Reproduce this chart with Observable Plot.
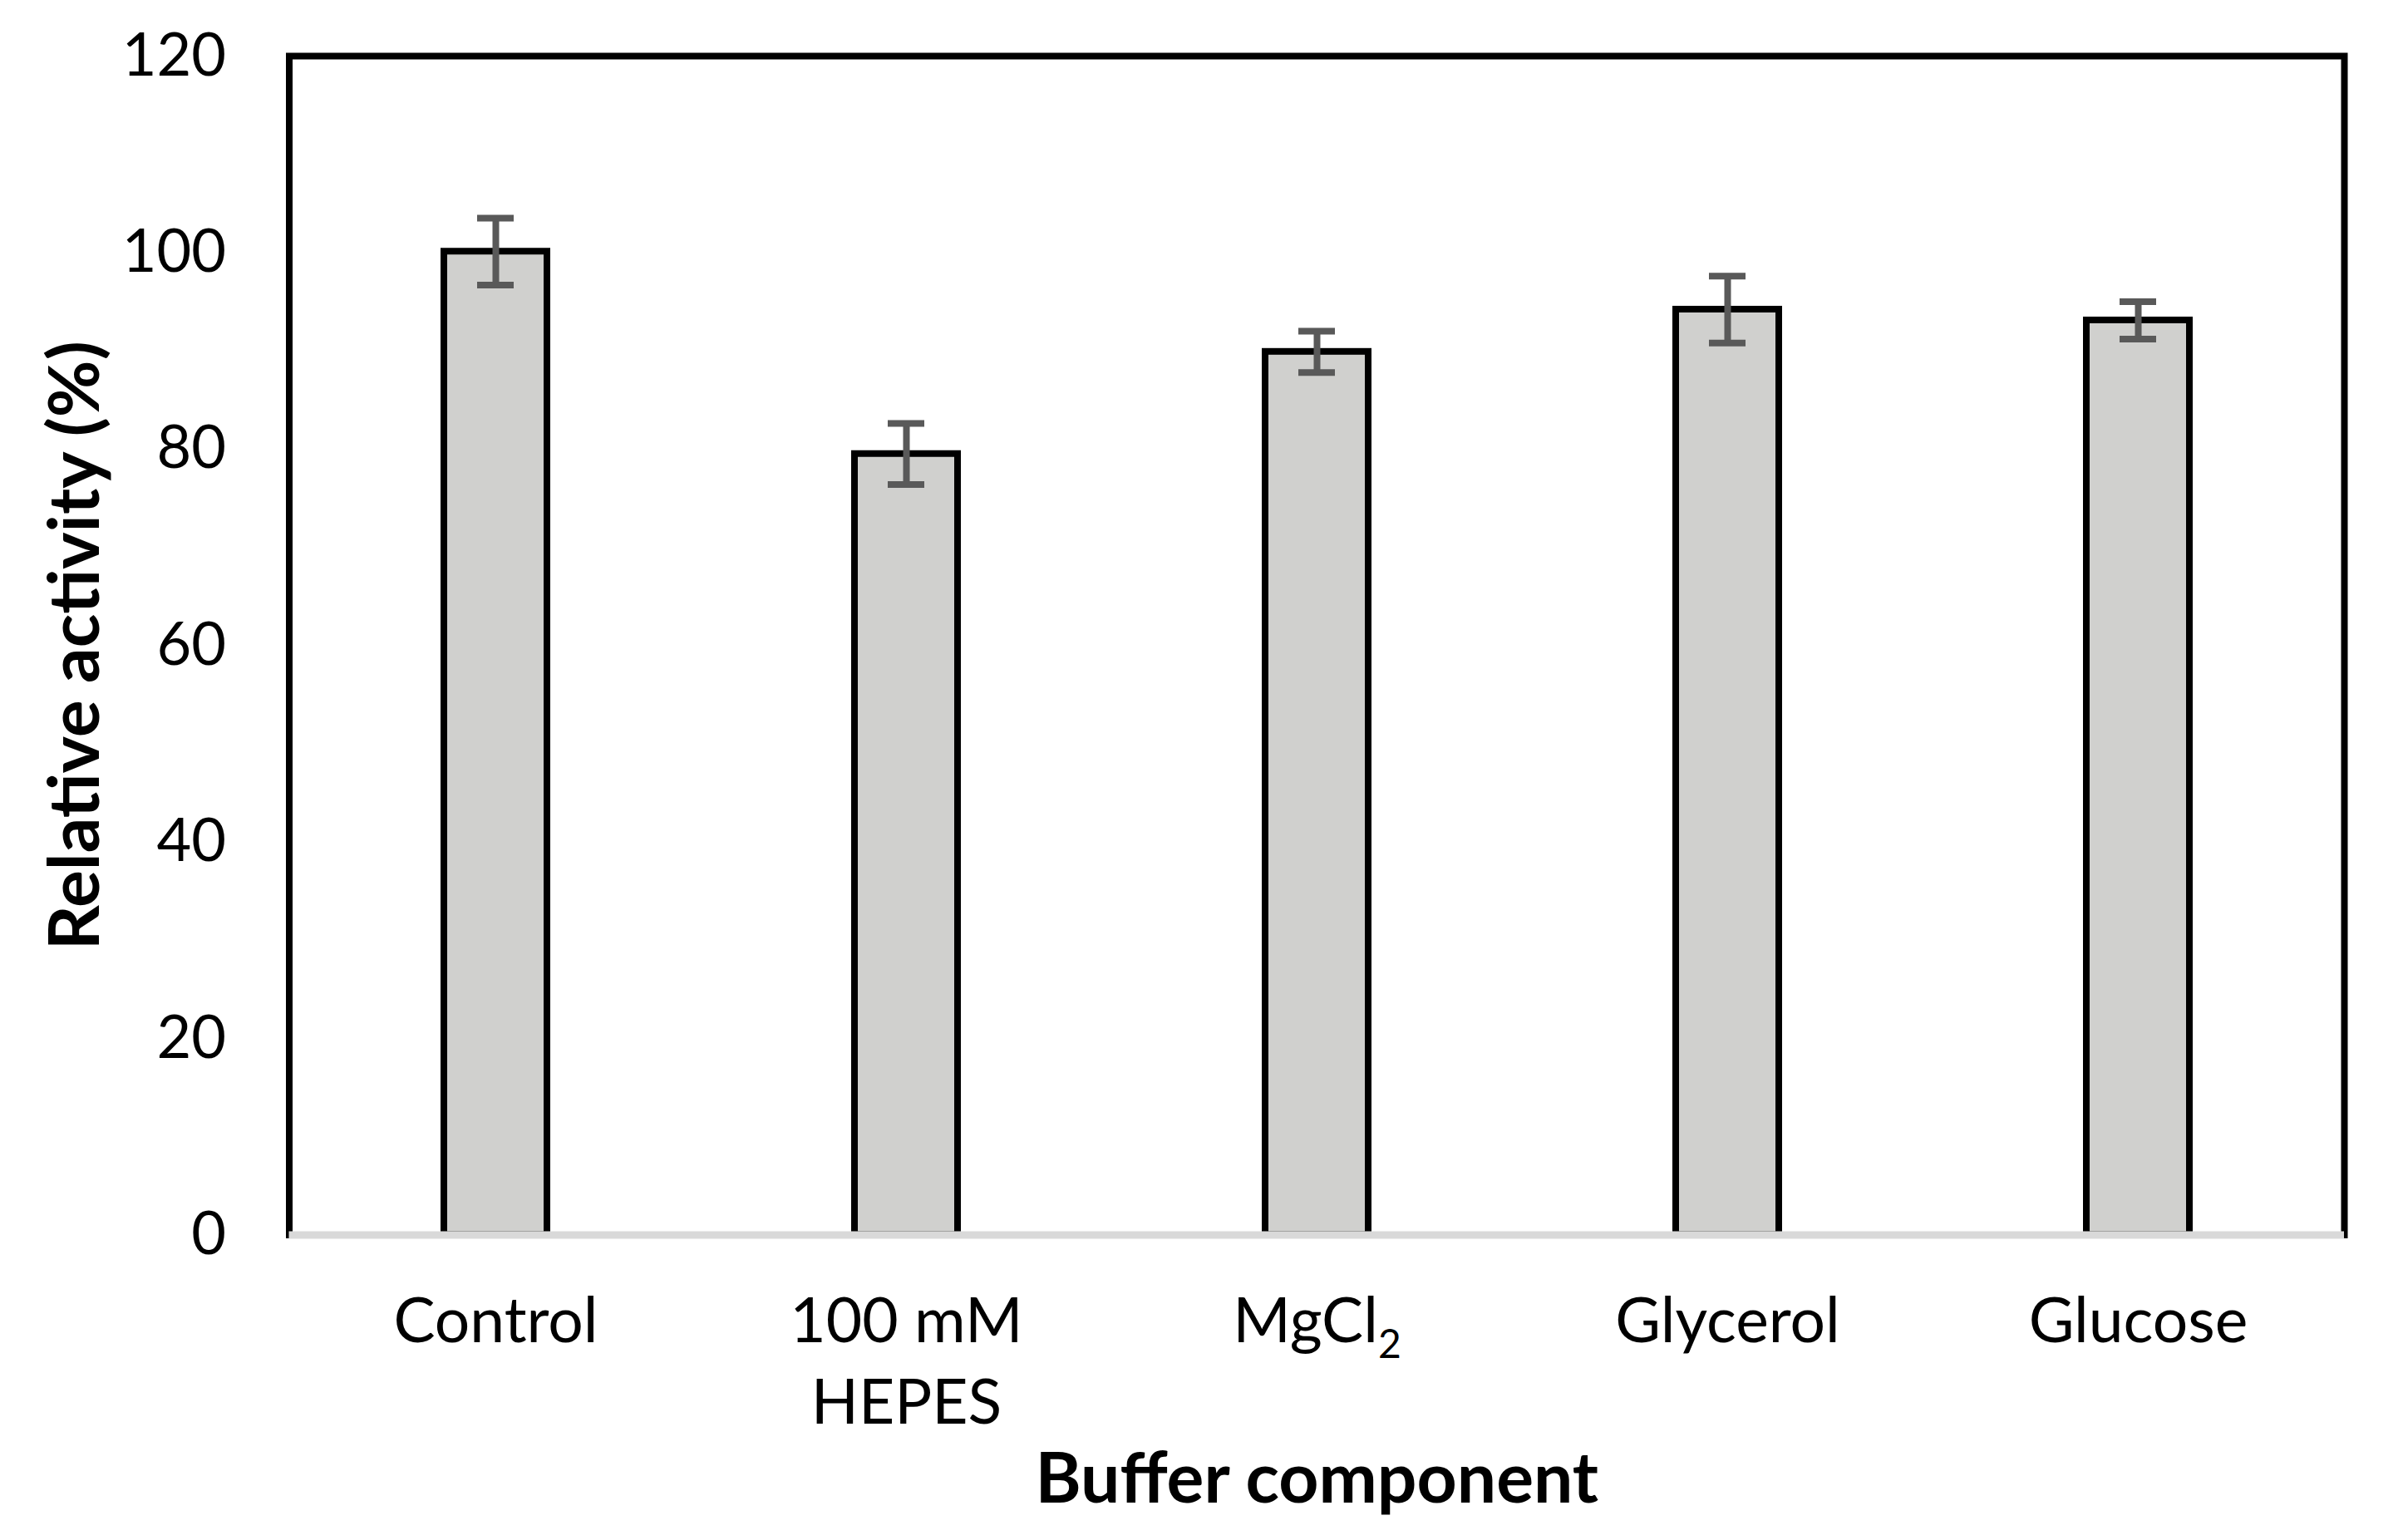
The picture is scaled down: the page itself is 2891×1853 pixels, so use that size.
<!DOCTYPE html>
<html><head><meta charset="utf-8">
<script src="https://cdn.jsdelivr.net/npm/d3@7"></script>
<script src="https://cdn.jsdelivr.net/npm/@observablehq/plot@0.6"></script>
<style>html,body{margin:0;padding:0;background:#fff}</style>
</head><body><div id="chart"></div>
<script>
const categories = ["Control", "100 mM\nHEPES", "MgCl2", "Glycerol", "Glucose"];
const values = [100.1, 79.5, 89.9, 94.2, 93.1];
const errors = [3.4, 3.1, 2.1, 3.4, 1.9];
const yTicks = [0, 20, 40, 60, 80, 100, 120];
const xTitle = "Buffer component";
const yTitle = "Relative activity (%)";

const data = categories.map((c, i) => ({name: c, value: values[i], err: errors[i]}));

const plot = Plot.plot({
  width: 2891,
  height: 1853,
  marginLeft: 347.5,
  marginRight: 71,
  marginTop: 67,
  marginBottom: 367.5,
  style: {fontFamily: "Lato, 'Open Sans', sans-serif", background: "#fff", color: "#000"},
  x: {domain: categories, paddingInner: 0.75, paddingOuter: 0.375, label: null},
  y: {domain: [0, 120], label: null},
  marks: [
    Plot.frame({stroke: "#000", strokeWidth: 8}),
    Plot.barY(data, {x: "name", y: "value", fill: "#d0d0ce", stroke: "#000", strokeWidth: 8}),
    Plot.ruleY([0], {stroke: "#d9d9d9", strokeWidth: 9}),
    Plot.ruleX(data, {x: "name", y1: d => d.value - d.err, y2: d => d.value + d.err, stroke: "#595959", strokeWidth: 8}),
    Plot.tickY(data, {x: "name", y: d => d.value + d.err, stroke: "#595959", strokeWidth: 8, insetLeft: 40, insetRight: 40}),
    Plot.tickY(data, {x: "name", y: d => d.value - d.err, stroke: "#595959", strokeWidth: 8, insetLeft: 40, insetRight: 40}),
    Plot.axisY({ticks: yTicks, tickSize: 0, tickPadding: 76, fontSize: 72, label: null, tickFormat: d => String(d)}),
    Plot.axisX({tickSize: 0, tickPadding: 60, fontSize: 75, label: null, lineHeight: 1.3, tickFormat: d => d}),
    Plot.text([yTitle], {frameAnchor: "left", dx: -289, rotate: -90, lineAnchor: "top", textAnchor: "middle", fontSize: 84, fontWeight: "bold", fill: "#000"}),
    Plot.text([xTitle], {frameAnchor: "bottom", dy: 322, lineAnchor: "bottom", textAnchor: "middle", fontSize: 84, fontWeight: "bold", fill: "#000"})
  ]
});

d3.select(plot).selectAll("text").filter(function () { return this.textContent === "MgCl2"; })
  .each(function () {
    const t = d3.select(this);
    t.text("MgCl");
    t.append("tspan").attr("font-size", 48).attr("dy", 19).text("2");
  });

document.getElementById("chart").appendChild(plot);
</script>
</body></html>
